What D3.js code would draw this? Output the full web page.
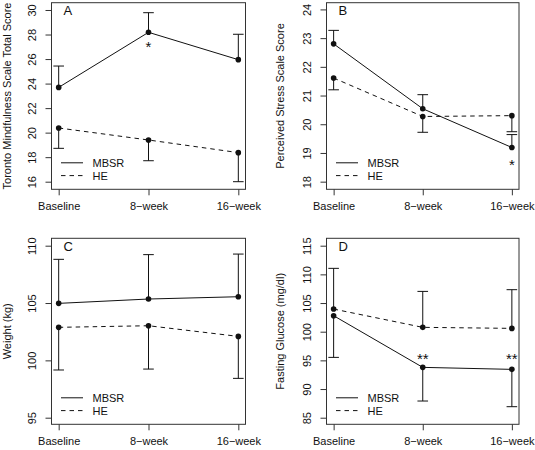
<!DOCTYPE html>
<html>
<head>
<meta charset="utf-8">
<script src="https://cdn.jsdelivr.net/npm/d3@7"></script>
<style>
  html, body { margin: 0; padding: 0; background: #fff; }
  svg { display: block; font-family: "Liberation Sans", Arial, Helvetica, sans-serif; }
</style>
</head>
<body>
<svg id="chart" width="535" height="450"></svg>
<script>
// ---- Data ----
const timepoints = ["Baseline", "8\u2212week", "16\u2212week"];
const seriesNames = ["MBSR", "HE"];

// Panel A: Toronto Mindfulness Scale
const tmsMBSR = [23.69, 28.18, 25.95];
const tmsMBSRBar = [25.43, 29.78, 28.02];
const tmsHE = [20.38, 19.40, 18.37];
const tmsHEBar = [18.72, 17.71, 16.00];
const tmsTicks = [16, 18, 20, 22, 24, 26, 28, 30];
const tmsStars = [{ t: 1, v: 27.28, label: "*" }];

// Panel B: Perceived Stress Scale
const pssMBSR = [22.80, 20.54, 19.19];
const pssMBSRBar = [23.27, 21.03, 19.64];
const pssHE = [21.61, 20.27, 20.30];
const pssHEBar = [21.20, 19.72, 19.74];
const pssTicks = [18, 19, 20, 21, 22, 23, 24];
const pssStars = [{ t: 2, v: 18.69, label: "*" }];

// Panel C: Weight
const wtMBSR = [104.97, 105.35, 105.55];
const wtMBSRBar = [108.81, 109.22, 109.27];
const wtHE = [102.88, 103.02, 102.09];
const wtHEBar = [99.16, 99.24, 98.43];
const wtTicks = [95, 100, 105, 110];
const wtStars = [];

// Panel D: Fasting Glucose
const glcMBSR = [102.79, 93.78, 93.43];
const glcMBSRBar = [95.52, 87.91, 86.92];
const glcHE = [103.95, 100.76, 100.58];
const glcHEBar = [111.05, 107.03, 107.33];
const glcTicks = [85, 90, 95, 100, 105, 110, 115];
const glcStars = [{ t: 1, v: 95.76, label: "**" }, { t: 2, v: 95.76, label: "**" }];

// ---- Layout / panel config ----
const panels = [
  { letter: "A", title: "Toronto Mindfulness Scale Total Score", left: 51.5, right: 245.5, top: 2.7, bottom: 189.3,
    domain: [15.38, 30.595], ticks: tmsTicks, mbsr: tmsMBSR, mbsrBar: tmsMBSRBar, he: tmsHE, heBar: tmsHEBar, stars: tmsStars, titleX: 7 },
  { letter: "B", title: "Perceived Stress Scale Score", left: 326.5, right: 519, top: 2.7, bottom: 189.3,
    domain: [17.734, 24.234], ticks: pssTicks, mbsr: pssMBSR, mbsrBar: pssMBSRBar, he: pssHE, heBar: pssHEBar, stars: pssStars, titleX: 280 },
  { letter: "C", title: "Weight (kg)", left: 51.5, right: 245.5, top: 238.3, bottom: 424.3,
    domain: [94.424, 110.645], ticks: wtTicks, mbsr: wtMBSR, mbsrBar: wtMBSRBar, he: wtHE, heBar: wtHEBar, stars: wtStars, titleX: 7 },
  { letter: "D", title: "Fasting Glucose (mg/dl)", left: 326.5, right: 519, top: 238.3, bottom: 424.3,
    domain: [83.85, 116.29], ticks: glcTicks, mbsr: glcMBSR, mbsrBar: glcMBSRBar, he: glcHE, heBar: glcHEBar, stars: glcStars, titleX: 280 }
];

const svg = d3.select("#chart");
const ink = "#111";
const dash = "4.5,4";

panels.forEach(p => {
  const g = svg.append("g");
  const x = d3.scaleLinear().domain([0.92, 3.08]).range([p.left, p.right]);
  const y = d3.scaleLinear().domain(p.domain).range([p.bottom, p.top]);
  const idx = [0, 1, 2];

  // Box
  g.append("rect")
    .attr("x", p.left).attr("y", p.top)
    .attr("width", p.right - p.left).attr("height", p.bottom - p.top)
    .attr("fill", "none").attr("stroke", "#333").attr("stroke-width", 1);

  // X axis
  const xAxis = d3.axisBottom(x).tickValues([1, 2, 3])
    .tickFormat(d => timepoints[d - 1]).tickSize(6).tickPadding(7);
  const xa = g.append("g").attr("transform", `translate(0,${p.bottom})`).call(xAxis);
  xa.select(".domain").remove();
  xa.selectAll("line").attr("stroke", "#333");
  xa.selectAll("text").attr("font-size", 11).attr("fill", ink)
    .attr("font-family", "Liberation Sans, Arial, sans-serif");

  // Y axis
  const yAxis = d3.axisLeft(y).tickValues(p.ticks).tickFormat(d3.format("d")).tickSize(6).tickPadding(0);
  const ya = g.append("g").attr("transform", `translate(${p.left},0)`).call(yAxis);
  ya.select(".domain").remove();
  ya.selectAll("line").attr("stroke", "#333");
  ya.selectAll("text")
    .attr("font-size", 11).attr("fill", ink)
    .attr("font-family", "Liberation Sans, Arial, sans-serif")
    .attr("x", null).attr("dy", null)
    .attr("text-anchor", "middle")
    .attr("transform", "translate(-19,0) rotate(-90)")
    .attr("dy", "0.35em");

  // Y title
  g.append("text")
    .attr("transform", `translate(${p.titleX + 4},${(p.top + p.bottom) / 2}) rotate(-90)`)
    .attr("text-anchor", "middle")
    .attr("font-size", 11).attr("fill", ink)
    .text(p.title);

  // Panel letter
  g.append("text")
    .attr("x", p.left + 12).attr("y", p.top + 12.5)
    .attr("font-size", 13).attr("fill", ink)
    .text(p.letter);

  const line = d3.line().x((d, i) => x(i + 1)).y(d => y(d));
  const capW = 5.3;

  const drawSeries = (vals, bars, dashed) => {
    g.append("path").datum(vals)
      .attr("d", line).attr("fill", "none").attr("stroke", ink).attr("stroke-width", 1)
      .attr("stroke-dasharray", dashed ? dash : null);
    // error bars
    g.selectAll(null).data(idx).enter().append("line")
      .attr("x1", i => x(i + 1)).attr("x2", i => x(i + 1))
      .attr("y1", i => y(vals[i])).attr("y2", i => y(bars[i]))
      .attr("stroke", ink).attr("stroke-width", 1);
    g.selectAll(null).data(idx).enter().append("line")
      .attr("x1", i => x(i + 1) - capW).attr("x2", i => x(i + 1) + capW)
      .attr("y1", i => y(bars[i])).attr("y2", i => y(bars[i]))
      .attr("stroke", ink).attr("stroke-width", 1);
    g.selectAll(null).data(idx).enter().append("circle")
      .attr("cx", i => x(i + 1)).attr("cy", i => y(vals[i])).attr("r", 2.8)
      .attr("fill", ink);
  };
  drawSeries(p.mbsr, p.mbsrBar, false);
  drawSeries(p.he, p.heBar, true);

  // Stars
  p.stars.forEach(s => {
    g.append("text")
      .attr("x", x(s.t + 1)).attr("y", y(s.v) + 8.4)
      .attr("text-anchor", "middle").attr("font-size", 15).attr("fill", ink)
      .text(s.label);
  });

  // Legend
  const lx = p.left + 9.5;
  seriesNames.forEach((name, k) => {
    const ly = p.bottom - 26.5 + k * 12.8;
    g.append("line").attr("x1", lx).attr("x2", lx + 22).attr("y1", ly).attr("y2", ly)
      .attr("stroke", ink).attr("stroke-width", 1)
      .attr("stroke-dasharray", k === 1 ? dash : null);
    g.append("text").attr("x", lx + 31.5).attr("y", ly).attr("dy", "0.36em")
      .attr("font-size", 11).attr("fill", ink).text(name);
  });
});
</script>
</body>
</html>
